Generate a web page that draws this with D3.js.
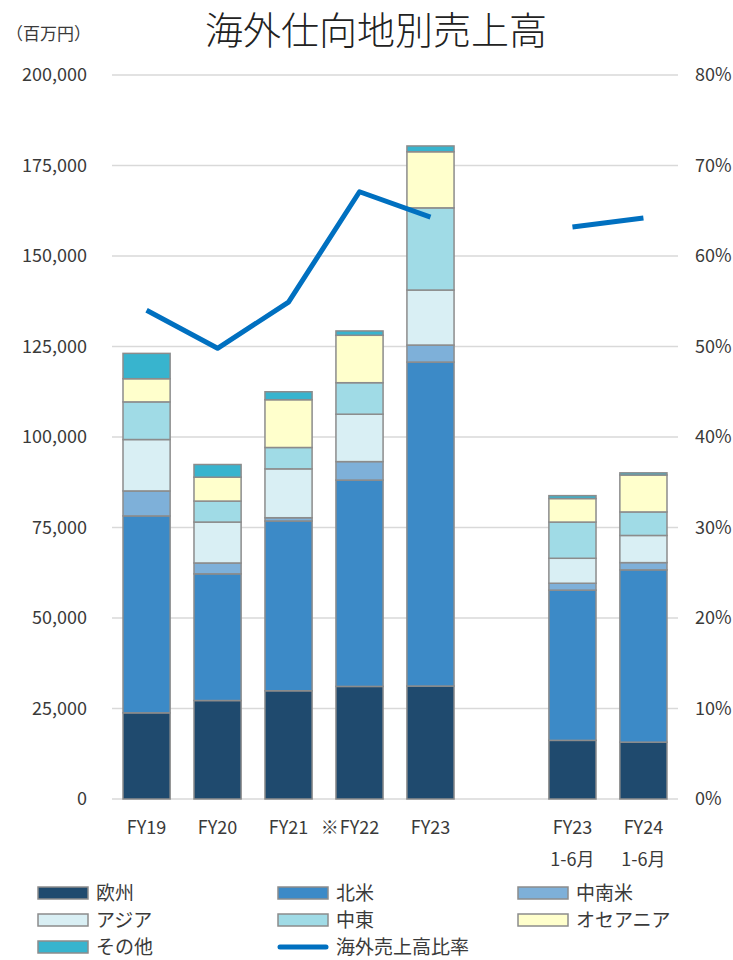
<!DOCTYPE html>
<html><head><meta charset="utf-8">
<script src="https://cdn.jsdelivr.net/npm/d3@7"></script>
<style>body{margin:0;background:#fff;} svg{display:block;font-family:"Noto Sans CJK JP","Noto Sans",sans-serif;}</style>
</head><body>
<svg id="c" width="733" height="960"></svg>
<script>
const categories = ["FY19","FY20","FY21","※FY22","FY23","gap","FY23H","FY24H"];
const labelLine1 = ["FY19","FY20","FY21","※FY22","FY23","","FY23","FY24"];
const labelLine2 = ["","","","","","","1-6月","1-6月"];
const seriesNames = ["欧州","北米","中南米","アジア","中東","オセアニア","その他"];
const europe   = [23800,27200,29900,31100,31200,null,16200,15700];
const namerica = [54400,35000,46900,57000,89500,null,41500,47600];
const latam    = [6900,3000,900,5100,4700,null,1900,2000];
const asia     = [14200,11300,13500,13100,15200,null,6900,7500];
const mideast  = [10400,5800,5900,8700,22700,null,10000,6500];
const oceania  = [6400,6600,13200,13100,15500,null,6500,10200];
const others   = [7000,3500,2200,1200,1600,null,800,600];
const ratio    = [54.0,49.8,54.9,67.1,64.3,null,63.2,64.2];
const leftTicks = [0,25000,50000,75000,100000,125000,150000,175000,200000];
const rightTicks = [0,10,20,30,40,50,60,70,80];
const colors = ["#1F4A6E","#3C8AC7","#7EB0D9","#D9EFF4","#A0DBE6","#FFFFCC","#38B4CE"];
const lineColor = "#0070C0";
const textColor = "#3A3A3A";

const seriesVals = [europe,namerica,latam,asia,mideast,oceania,others];
const svg = d3.select("#c");
const L=112,R=678,T=75,B=799;
const x = d3.scaleBand().domain(categories).range([L,R]).paddingInner(0.336).paddingOuter(0.155);
const y = d3.scaleLinear().domain([0,200000]).range([B,T]);
const y2 = d3.scaleLinear().domain([0,80]).range([B,T]);

// gridlines
svg.append("g").selectAll("line").data(leftTicks).join("line")
  .attr("x1",L).attr("x2",R).attr("y1",d=>y(d)).attr("y2",d=>y(d))
  .attr("stroke","#D9D9D9").attr("stroke-width",1.5);

// left axis
const ly = d3.axisLeft(y).tickValues(leftTicks).tickFormat(d3.format(",")).tickSize(0).tickPadding(0);
const gl = svg.append("g").attr("transform","translate(87,0)").call(ly);
gl.select(".domain").remove();
gl.selectAll("text").attr("font-size",18).attr("fill",textColor).attr("font-family","'Noto Sans CJK JP',sans-serif");

const ry = d3.axisRight(y2).tickValues(rightTicks).tickFormat(d=>d+"%").tickSize(0).tickPadding(0);
const gr = svg.append("g").attr("transform","translate(695,0)").call(ry);
gr.select(".domain").remove();
gr.selectAll("text").attr("font-size",18).attr("fill",textColor).attr("font-family","'Noto Sans CJK JP',sans-serif");

// stacked data
const rows = categories.map((c,i)=>{const o={cat:c}; seriesNames.forEach((s,j)=>o[s]=seriesVals[j][i]||0); o.valid=europe[i]!==null; return o;});
const stack = d3.stack().keys(seriesNames)(rows.filter(r=>r.valid));
svg.append("g").selectAll("g").data(stack).join("g")
  .attr("fill",(d,i)=>colors[i])
  .selectAll("rect").data(d=>d).join("rect")
  .attr("x",d=>x(d.data.cat)).attr("width",x.bandwidth())
  .attr("y",d=>y(d[1])).attr("height",d=>y(d[0])-y(d[1]))
  .attr("stroke","#8C8C8C").attr("stroke-width",1.5);

// line
const line = d3.line().defined(d=>d.v!==null).x(d=>x(d.c)+x.bandwidth()/2).y(d=>y2(d.v));
svg.append("path").datum(categories.map((c,i)=>({c,v:ratio[i]})))
  .attr("d",line).attr("fill","none").attr("stroke",lineColor).attr("stroke-width",5).attr("stroke-linejoin","round");

// x labels
const xl = svg.append("g").attr("font-size",18).attr("fill",textColor);
categories.forEach((c,i)=>{
  const cx = x(c)+x.bandwidth()/2;
  let lab = labelLine1[i];
  if(lab){
    let prefix = "";
    if(lab.startsWith("※")){prefix="※"; lab=lab.slice(1);}
    const t = xl.append("text").attr("x",cx).attr("y",834).attr("text-anchor","middle").text(lab);
    if(prefix){
      const w = t.node().getComputedTextLength();
      xl.append("text").attr("x",cx-w/2-1).attr("y",834).attr("text-anchor","end").text(prefix);
    }
  }
  if(labelLine2[i]) xl.append("text").attr("x",cx).attr("y",866).attr("text-anchor","middle").text(labelLine2[i]);
});

// title
svg.append("text").attr("x",376).attr("y",44).attr("text-anchor","middle").attr("font-size",38).attr("font-weight",300).attr("fill","#222").text("海外仕向地別売上高");
svg.append("text").attr("x",6).attr("y",40).attr("font-size",17).attr("fill",textColor).text("（百万円）");

// legend
const legendItems = seriesNames.map((s,i)=>({name:s,color:colors[i],type:"bar"})).concat([{name:"海外売上高比率",color:lineColor,type:"line"}]);
const lg = svg.append("g");
legendItems.forEach((d,i)=>{
  const col=i%3,row=Math.floor(i/3);
  const lx = 38+col*240, ly2 = 893+row*27;
  if(d.type==="bar"){
    lg.append("rect").attr("x",lx).attr("y",ly2-6).attr("width",50).attr("height",12).attr("fill",d.color).attr("stroke","#8C8C8C").attr("stroke-width",1.5);
  } else {
    lg.append("line").attr("x1",lx+2).attr("x2",lx+48).attr("y1",ly2).attr("y2",ly2).attr("stroke",d.color).attr("stroke-width",5).attr("stroke-linecap","round");
  }
  lg.append("text").attr("x",lx+58).attr("y",ly2).attr("dy","0.35em").attr("font-size",19).attr("fill",textColor).text(d.name);
});
</script>
</body></html>
